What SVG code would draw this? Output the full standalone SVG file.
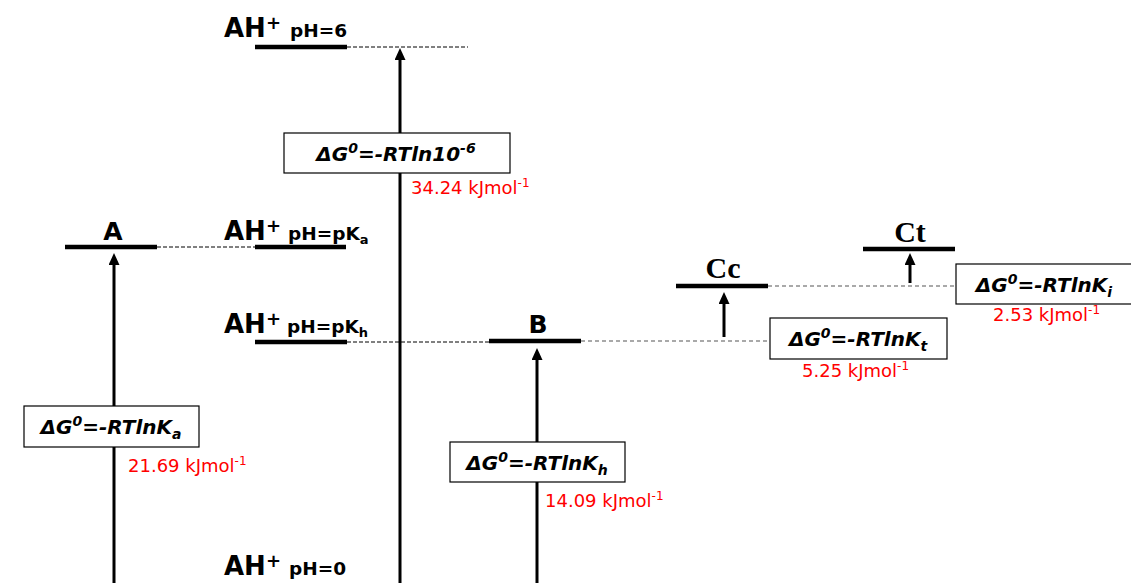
<svg xmlns="http://www.w3.org/2000/svg" width="1131" height="583" viewBox="0 0 1131 583">
<style>
.bar{stroke:#000;stroke-width:4.5;fill:none}
.dash{stroke:#000;stroke-width:1;stroke-dasharray:4 2;fill:none}
.gdash{stroke:#555;stroke-width:1.2;stroke-dasharray:4 3;fill:none}
.arr{stroke:#000;stroke-width:3;fill:none;marker-end:url(#ah)}
.box{fill:#fff;stroke:#000;stroke-width:1.2}
.ah{font-family:"DejaVu Sans",sans-serif;font-weight:bold;font-size:26px;fill:#000}
.plus{font-family:"DejaVu Sans",sans-serif;font-weight:bold;font-size:18px;fill:#000}
.ph{font-family:"DejaVu Sans",sans-serif;font-weight:bold;font-size:18.5px;fill:#000}
.lbl{font-family:"DejaVu Sans",sans-serif;font-weight:bold;font-size:25px;fill:#000;text-anchor:middle}
.slbl{font-family:"Liberation Serif",serif;font-weight:bold;font-size:30px;fill:#000;text-anchor:middle}
.eq{font-family:"DejaVu Sans",sans-serif;font-weight:bold;font-style:italic;font-size:20px;fill:#000;text-anchor:middle}
.red{font-family:"DejaVu Sans",sans-serif;font-size:18px;fill:#ff0000}
</style>
<defs>
<marker id="ah" markerUnits="userSpaceOnUse" viewBox="0 0 12 11" refX="2" refY="5.5" markerWidth="12" markerHeight="11" orient="auto">
<path d="M0,0 L12,5.5 L0,11 z" fill="#000"/>
</marker>
</defs>

<g id="connectors">
<line class="dash" x1="347" y1="47" x2="468" y2="47"/>
<line class="dash" x1="157" y1="247" x2="255" y2="247"/>
<line class="dash" x1="347" y1="342" x2="489" y2="342"/>
<line class="gdash" x1="581" y1="341" x2="770" y2="341"/>
<line class="gdash" x1="768" y1="286" x2="956" y2="286"/>
<line class="arr" x1="400" y1="590" x2="400" y2="58"/>
<line class="arr" x1="114" y1="590" x2="114" y2="263"/>
<line class="arr" x1="537" y1="590" x2="537" y2="358"/>
<line class="arr" x1="724" y1="337" x2="724" y2="302"/>
<line class="arr" x1="910" y1="283" x2="910" y2="263"/>
</g>

<g id="lvl-ph6">
<line class="bar" x1="255" y1="47" x2="347" y2="47"/>
<text class="ah" x="224" y="37">AH</text>
<text class="plus" x="266" y="29">+</text>
<text class="ph" x="290" y="37">pH=6</text>
</g>

<g id="lvl-pka">
<line class="bar" x1="255" y1="247" x2="346" y2="247"/>
<text class="ah" x="224" y="240">AH</text>
<text class="plus" x="266" y="232">+</text>
<text class="ph" x="288" y="240">pH=pK<tspan font-size="13" dy="4">a</tspan></text>
</g>

<g id="lvl-pkh">
<line class="bar" x1="255" y1="342" x2="347" y2="342"/>
<text class="ah" x="224" y="333">AH</text>
<text class="plus" x="266" y="325">+</text>
<text class="ph" x="287" y="333">pH=pK<tspan font-size="13" dy="4">h</tspan></text>
</g>

<g id="lvl-ph0">
<text class="ah" x="224" y="575">AH</text>
<text class="plus" x="266" y="567">+</text>
<text class="ph" x="289" y="575">pH=0</text>
</g>

<g id="node-A">
<line class="bar" x1="65" y1="247" x2="157" y2="247"/>
<text class="lbl" x="113" y="240">A</text>
</g>

<g id="node-B">
<line class="bar" x1="489" y1="341" x2="581" y2="341"/>
<text class="lbl" x="538" y="333">B</text>
</g>

<g id="node-Cc">
<line class="bar" x1="676" y1="286" x2="768" y2="286"/>
<text class="slbl" x="723" y="278">Cc</text>
</g>

<g id="node-Ct">
<line class="bar" x1="863" y1="249" x2="955" y2="249"/>
<text class="slbl" x="910" y="242">Ct</text>
</g>

<g id="box-ph6">
<rect class="box" x="284" y="133" width="226" height="40"/>
<text class="eq" x="396" y="161">ΔG<tspan font-size="14" dy="-8">0</tspan><tspan dy="8">=-RTln10</tspan><tspan font-size="14" dy="-8">-6</tspan></text>
<text class="red" x="411" y="194">34.24 kJmol<tspan font-size="12" dy="-7">-1</tspan></text>
</g>

<g id="box-Ka">
<rect class="box" x="24" y="406" width="175" height="41"/>
<text class="eq" x="111" y="434">ΔG<tspan font-size="14" dy="-8">0</tspan><tspan dy="8">=-RTlnK</tspan><tspan font-size="14" dy="5">a</tspan></text>
<text class="red" x="128" y="472">21.69 kJmol<tspan font-size="12" dy="-7">-1</tspan></text>
</g>

<g id="box-Kh">
<rect class="box" x="450" y="442" width="175" height="40"/>
<text class="eq" x="537" y="470">ΔG<tspan font-size="14" dy="-8">0</tspan><tspan dy="8">=-RTlnK</tspan><tspan font-size="14" dy="5">h</tspan></text>
<text class="red" x="545" y="507">14.09 kJmol<tspan font-size="12" dy="-7">-1</tspan></text>
</g>

<g id="box-Kt">
<rect class="box" x="770" y="318" width="177" height="41"/>
<text class="eq" x="858" y="346">ΔG<tspan font-size="14" dy="-8">0</tspan><tspan dy="8">=-RTlnK</tspan><tspan font-size="14" dy="5">t</tspan></text>
<text class="red" x="802" y="377">5.25 kJmol<tspan font-size="12" dy="-7">-1</tspan></text>
</g>

<g id="box-Ki">
<rect class="box" x="956" y="264" width="178" height="40"/>
<text class="eq" x="1044" y="292">ΔG<tspan font-size="14" dy="-8">0</tspan><tspan dy="8">=-RTlnK</tspan><tspan font-size="14" dy="5">i</tspan></text>
<text class="red" x="993" y="321">2.53 kJmol<tspan font-size="12" dy="-7">-1</tspan></text>
</g>
</svg>
